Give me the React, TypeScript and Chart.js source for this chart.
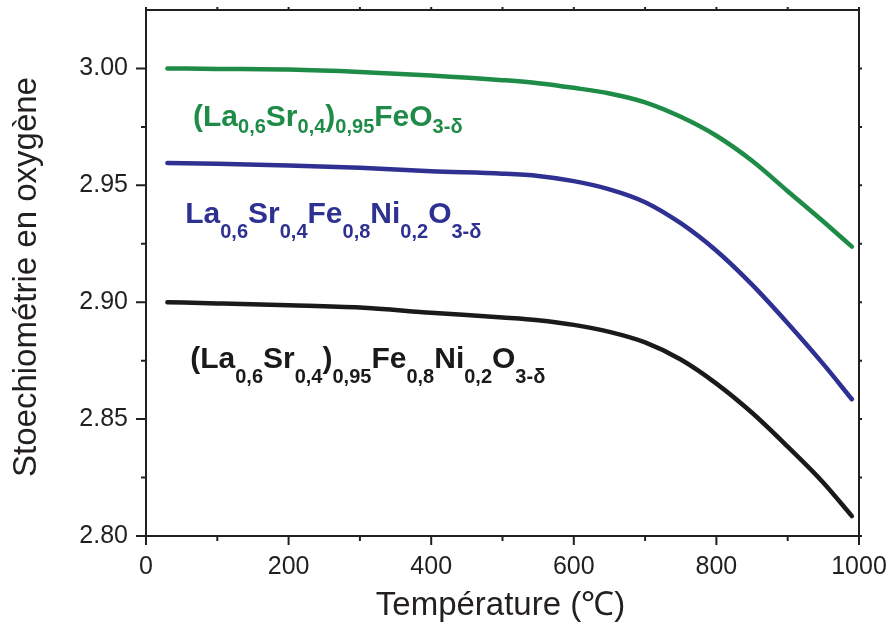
import { useEffect, useRef } from 'react';
import { Chart, registerables } from 'chart.js';

Chart.register(...registerables);

// ---- Data ----
const temperatures = [30, 100, 200, 300, 400, 500, 550, 600, 650, 700, 750, 800, 850, 900, 950, 990];
const lsfO3 = [3.0, 2.9998, 2.9995, 2.9985, 2.997, 2.995, 2.9937, 2.9917, 2.9893, 2.9855, 2.9793, 2.9712, 2.9605, 2.9475, 2.9345, 2.9238];
const lsfnO3 = [2.9595, 2.9592, 2.9585, 2.9575, 2.956, 2.955, 2.954, 2.9518, 2.9483, 2.9428, 2.9338, 2.922, 2.9075, 2.891, 2.8735, 2.8585];
const lsfn95O3 = [2.9, 2.8995, 2.8987, 2.8977, 2.8955, 2.8935, 2.8923, 2.8903, 2.8873, 2.8828, 2.8755, 2.8652, 2.8527, 2.8382, 2.8228, 2.8085];

const xMajorTicks = [0, 200, 400, 600, 800, 1000];
const xMinorTicks = [100, 300, 500, 700, 900];
const yMajorTicks = [2.8, 2.85, 2.9, 2.95, 3.0];
const yMinorTicks = [2.825, 2.875, 2.925, 2.975];

const xTitle = 'Température (℃)';
const yTitle = 'Stoechiométrie en oxygène';

// formula labels: [text, isSubscript]
const labelLsf: [string, boolean][] = [['(La', false], ['0,6', true], ['Sr', false], ['0,4', true], [')', false], ['0,95', true], ['FeO', false], ['3-δ', true]];
const labelLsfn: [string, boolean][] = [['La', false], ['0,6', true], ['Sr', false], ['0,4', true], ['Fe', false], ['0,8', true], ['Ni', false], ['0,2', true], ['O', false], ['3-δ', true]];
const labelLsfn95: [string, boolean][] = [['(La', false], ['0,6', true], ['Sr', false], ['0,4', true], [')', false], ['0,95', true], ['Fe', false], ['0,8', true], ['Ni', false], ['0,2', true], ['O', false], ['3-δ', true]];

const GREEN = '#1e8b47';
const BLUE = '#2e3192';
const BLACK = '#1a1a1a';
const AXIS = '#231f20';
const FONT = '"Liberation Sans", Arial, Helvetica, sans-serif';

function drawFormula(ctx: CanvasRenderingContext2D, segs: [string, boolean][], x: number, y: number, color: string, drop: number) {
  let cx = x;
  ctx.fillStyle = color;
  ctx.textBaseline = 'alphabetic';
  ctx.textAlign = 'left';
  for (const [t, sub] of segs) {
    ctx.font = `bold ${sub ? 20 : 30}px ${FONT}`;
    ctx.fillText(t, cx, sub ? y + drop : y);
    cx += ctx.measureText(t).width;
  }
}

const framePlugin = {
  id: 'framePlugin',
  afterDraw(chart: any) {
    const { ctx, chartArea } = chart;
    const { left, right, top, bottom } = chartArea;
    const xs = chart.scales.x;
    const ys = chart.scales.y;
    ctx.save();
    ctx.strokeStyle = AXIS;
    ctx.lineWidth = 2;
    ctx.strokeRect(left, top, right - left, bottom - top);
    ctx.beginPath();
    const tick = (x1: number, y1: number, x2: number, y2: number) => {
      ctx.moveTo(x1, y1);
      ctx.lineTo(x2, y2);
    };
    for (const v of xMajorTicks) {
      const px = xs.getPixelForValue(v);
      tick(px, bottom, px, bottom + 9);
      tick(px, top, px, top - 3);
    }
    for (const v of xMinorTicks) {
      const px = xs.getPixelForValue(v);
      tick(px, bottom, px, bottom + 5);
      tick(px, top, px, top - 3);
    }
    for (const v of yMajorTicks) {
      const py = ys.getPixelForValue(v);
      tick(left, py, left - 10, py);
      tick(right, py, right + 3, py);
    }
    for (const v of yMinorTicks) {
      const py = ys.getPixelForValue(v);
      tick(left, py, left - 5, py);
      tick(right, py, right + 3, py);
    }
    ctx.stroke();

    // axis titles
    ctx.fillStyle = '#231f20';
    ctx.font = `33px ${FONT}`;
    ctx.textAlign = 'center';
    ctx.textBaseline = 'alphabetic';
    ctx.fillText(xTitle, (left + right) / 2 - 2, 615);
    ctx.save();
    ctx.translate(36, (top + bottom) / 2 + 4);
    ctx.rotate(-Math.PI / 2);
    ctx.fillText(yTitle, 0, 0);
    ctx.restore();

    // formula labels anchored in data coordinates
    drawFormula(ctx, labelLsf, xs.getPixelForValue(66), ys.getPixelForValue(2.9752), GREEN, 7);
    drawFormula(ctx, labelLsfn, xs.getPixelForValue(55), ys.getPixelForValue(2.9340), BLUE, 15);
    drawFormula(ctx, labelLsfn95, xs.getPixelForValue(62), ys.getPixelForValue(2.8720), BLACK, 15);
    ctx.restore();
  },
};

export default function App() {
  const ref = useRef<HTMLCanvasElement | null>(null);
  useEffect(() => {
    if (!ref.current) return;
    const mk = (arr: number[]) => temperatures.map((t, i) => ({ x: t, y: arr[i] }));
    const ds = (data: number[], color: string) => ({
      data: mk(data),
      borderColor: color,
      backgroundColor: color,
      borderWidth: 4.5,
      pointRadius: 0,
      cubicInterpolationMode: 'monotone' as const,
      borderCapStyle: 'round' as const,
      borderJoinStyle: 'round' as const,
      fill: false,
    });
    const chart = new Chart(ref.current, {
      type: 'line',
      data: {
        datasets: [ds(lsfO3, GREEN), ds(lsfnO3, BLUE), ds(lsfn95O3, BLACK)],
      },
      options: {
        animation: false,
        responsive: true,
        maintainAspectRatio: false,
        layout: { padding: { left: 0, right: 31, top: 10, bottom: 0 } },
        plugins: { legend: { display: false }, tooltip: { enabled: false } },
        scales: {
          x: {
            type: 'linear',
            min: 0,
            max: 1000,
            afterBuildTicks: (s: any) => { s.ticks = xMajorTicks.map((v) => ({ value: v })); },
            afterFit: (s: any) => { s.height = 97; s.paddingLeft = 0; s.paddingRight = 0; },
            grid: { display: false },
            border: { display: false },
            ticks: {
              color: '#231f20',
              font: { size: 25, family: FONT },
              padding: 8,
              maxRotation: 0,
              autoSkip: false,
              callback: (v: any) => String(v),
            },
          },
          y: {
            type: 'linear',
            min: 2.8,
            max: 3.025,
            afterBuildTicks: (s: any) => { s.ticks = yMajorTicks.map((v) => ({ value: v })); },
            afterFit: (s: any) => { s.width = 146; s.paddingTop = 0; s.paddingBottom = 0; },
            grid: { display: false },
            border: { display: false },
            ticks: {
              color: '#231f20',
              font: { size: 25, family: FONT },
              padding: 10,
              autoSkip: false,
              callback: (v: any) => Number(v).toFixed(2),
            },
          },
        },
      },
      plugins: [framePlugin],
    });
    return () => chart.destroy();
  }, []);
  return (
    <div style={{ position: 'absolute', left: 0, top: 0, width: 890, height: 633, background: '#fff' }}>
      <canvas ref={ref} />
    </div>
  );
}
